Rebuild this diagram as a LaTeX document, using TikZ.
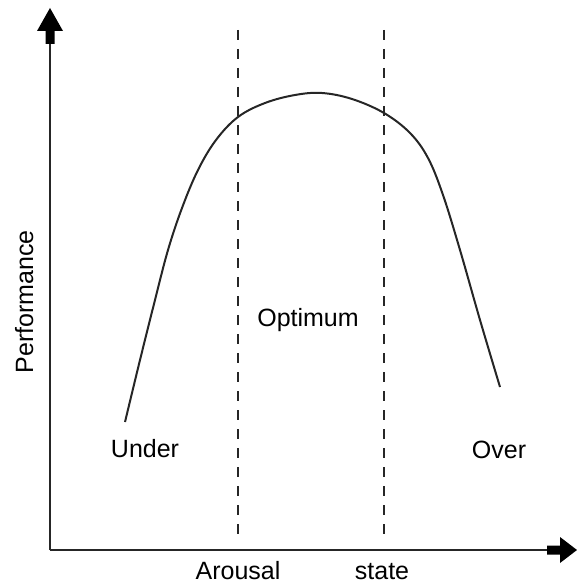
\documentclass[tikz,border=0pt]{standalone}
\usepackage{fontspec}
\setmainfont{Liberation Sans}
\begin{document}
\begin{tikzpicture}[x=1pt,y=-1pt,
  axis/.style={line width=2.4pt,black!85},
  headfill/.style={fill=black,draw=none},
  guide/.style={line width=2pt,black!85,dash pattern=on 10pt off 9pt},
  curve/.style={line width=2pt,black!85},
  lbl/.style={inner sep=0pt,anchor=base,font=\fontsize{25}{30}\selectfont}]
\useasboundingbox (0,0) rectangle (576,583);
% axes
\coordinate (o) at (50,550);
\coordinate (ytop) at (50,40);
\coordinate (xend) at (550,550);
\draw[axis] (o) -- (ytop);
\draw[axis] (o) -- (xend);
\fill[headfill] (37,31) -- (50,8) -- (63,31) -- (54.5,31) -- (54.5,44) -- (45.5,44) -- (45.5,31) -- cycle;
\fill[headfill] (560,537) -- (577,550) -- (560,563) -- (560,554.5) -- (547,554.5) -- (547,545.5) -- (560,545.5) -- cycle;
% dashed guides
\coordinate (l1) at (238,30);
\coordinate (l2) at (238,536);
\coordinate (r1) at (384,30);
\coordinate (r2) at (384,536);
\draw[guide] (l1) -- (l2);
\draw[guide] (r1) -- (r2);
% curve
\draw[curve] plot[smooth,tension=0.6] coordinates {(125,422) (140,360) (155,300) (168,250) (182,208) (198,170) (216,140) (238,117) (265,103) (295,95) (322,93) (352,99) (384,113) (410,133) (428,158) (443,195) (460,250) (480,320) (500,387)};
% labels
\node[lbl] (under) at (145,457) {Under};
\node[lbl] (opt) at (308,326) {Optimum};
\node[lbl] (over) at (499,458) {Over};
\node[lbl] (arousal) at (238,579) {Arousal};
\node[lbl] (state) at (382,579) {state};
\node[lbl,rotate=90] (perf) at (33,302) {Performance};
\end{tikzpicture}
\end{document}
